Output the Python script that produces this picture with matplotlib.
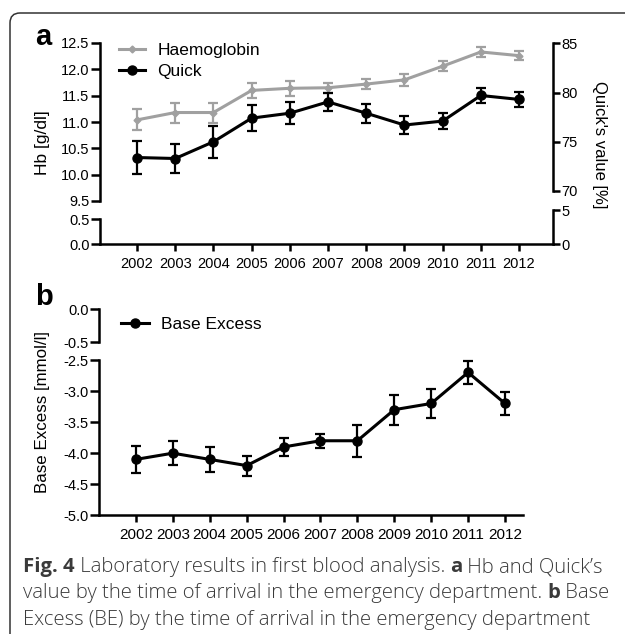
import numpy as np
import matplotlib
matplotlib.use('Agg')
import matplotlib.pyplot as plt
from matplotlib.lines import Line2D
from matplotlib.patches import FancyBboxPatch

plt.rcParams['font.family'] = ['Liberation Sans', 'DejaVu Sans']

# data
years = [2002, 2003, 2004, 2005, 2006, 2007, 2008, 2009, 2010, 2011, 2012]
hb = [11.04, 11.18, 11.18, 11.60, 11.64, 11.65, 11.72, 11.80, 12.06, 12.33, 12.26]
hb_err = [0.20, 0.19, 0.19, 0.15, 0.14, 0.10, 0.10, 0.11, 0.09, 0.09, 0.08]
quick = [73.4, 73.3, 75.0, 77.4, 77.9, 79.05, 77.9, 76.7, 77.1, 79.7, 79.3]
quick_err = [1.7, 1.5, 1.65, 1.35, 1.1, 0.9, 0.95, 0.9, 0.8, 0.8, 0.8]
be = [-4.10, -4.00, -4.10, -4.20, -3.90, -3.80, -3.80, -3.30, -3.20, -2.70, -3.20]
be_err = [0.22, 0.19, 0.20, 0.16, 0.14, 0.11, 0.26, 0.24, 0.24, 0.19, 0.19]

hb_ticks = [9.5, 10.0, 10.5, 11.0, 11.5, 12.0, 12.5]
quick_ticks = [70, 75, 80, 85]
be_ticks = [-5.0, -4.5, -4.0, -3.5, -3.0, -2.5]

W, H = 625, 634
fig = plt.figure(figsize=(W / 100, H / 100), dpi=100)

GRAY = '#a0a0a0'
LW = 1.8
DLW = 2.2


def px_axes(x0, y0, x1, y1):
    ax = fig.add_axes([x0 / W, 1 - y1 / H, (x1 - x0) / W, (y1 - y0) / H])
    ax.patch.set_visible(False)
    for s in ax.spines.values():
        s.set_visible(False)
        s.set_linewidth(LW)
    ax.tick_params(width=LW, labelsize=10.5)
    ax.set_xticks([])
    return ax


def left_axis(ax, ticks, fmt='%.1f'):
    ax.spines['left'].set_visible(True)
    ax.set_yticks(ticks)
    ax.set_yticklabels([fmt % t for t in ticks])
    ax.tick_params(axis='y', length=6.5, pad=1)


def bottom_axis(ax, xt, size):
    ax.spines['bottom'].set_visible(True)
    ax.set_xticks(xt)
    ax.set_xticklabels([str(y) for y in xt])
    ax.tick_params(axis='x', length=5, pad=4, labelsize=size)


# ---- panel a ----
xlim_a = (2001.03, 2012.89)
ax_hb = px_axes(100, 43, 553, 201)
ax_hb.set_xlim(xlim_a)
ax_hb.set_ylim(9.5, 12.5)
left_axis(ax_hb, hb_ticks)
ax_hb.errorbar(years, hb, yerr=hb_err, color=GRAY, lw=DLW, marker='D', ms=3.5,
               capsize=3.3, elinewidth=1.6, capthick=1.6, clip_on=False)

ax_q = px_axes(100, 43.3, 553, 191)
ax_q.set_xlim(xlim_a)
ax_q.set_ylim(70, 85)
ax_q.spines['right'].set_visible(True)
ax_q.yaxis.tick_right()
ax_q.set_yticks(quick_ticks)
ax_q.tick_params(axis='y', length=5, pad=1)
ax_q.errorbar(years, quick, yerr=quick_err, color='black', lw=DLW, marker='o', ms=6.5,
              capsize=3.5, elinewidth=1.6, capthick=1.6, clip_on=False)

ax_hb_lo = px_axes(100, 219, 553, 244)
ax_hb_lo.set_xlim(xlim_a)
ax_hb_lo.set_ylim(0, 0.5)
left_axis(ax_hb_lo, [0.0, 0.5])
bottom_axis(ax_hb_lo, years, 10.5)

ax_q_lo = px_axes(100, 210, 553, 244)
ax_q_lo.set_xlim(xlim_a)
ax_q_lo.set_ylim(0, 5)
ax_q_lo.spines['right'].set_visible(True)
ax_q_lo.yaxis.tick_right()
ax_q_lo.set_yticks([0, 5])
ax_q_lo.tick_params(axis='y', length=5, pad=1)

handles = [Line2D([], [], color=GRAY, lw=DLW, marker='D', ms=3.5),
           Line2D([], [], color='black', lw=DLW, marker='o', ms=6.5)]
ax_hb.legend(handles, ['Haemoglobin', 'Quick'], loc='upper left',
             bbox_to_anchor=(119 / W, 1 - 42.5 / H), bbox_transform=fig.transFigure,
             frameon=False, fontsize=12.5, handlelength=1.5, handletextpad=0.7,
             labelspacing=0.38, borderpad=0, borderaxespad=0)

fig.text(42.5 / W, 1 - 143 / H, 'Hb [g/dl]', rotation=90, ha='center', va='center', fontsize=12.5)
fig.text(600 / W, 1 - 144.5 / H, "Quick's value [%]", rotation=270, ha='center', va='center',
         fontsize=12)
fig.text(35 / W, 1 - 45 / H, 'a', fontsize=21, fontweight='bold', va='baseline')

# ---- panel b ----
xlim_b = (2001.0, 2012.48)
ax_be_hi = px_axes(99, 309.3, 522.7, 342)
ax_be_hi.set_xlim(xlim_b)
ax_be_hi.set_ylim(-0.5, 0.0)
left_axis(ax_be_hi, [-0.5, 0.0])

ax_be = px_axes(99, 360, 522.7, 515.3)
ax_be.set_xlim(xlim_b)
ax_be.set_ylim(-5.0, -2.5)
left_axis(ax_be, be_ticks)
bottom_axis(ax_be, years, 11)
ax_be.errorbar(years, be, yerr=be_err, color='black', lw=DLW, marker='o', ms=6.5,
               capsize=3.5, elinewidth=1.6, capthick=1.6, clip_on=False)

ax_be_hi.legend([Line2D([], [], color='black', lw=DLW, marker='o', ms=6.5)], ['Base Excess'],
                loc='upper left', bbox_to_anchor=(121 / W, 1 - 317 / H),
                bbox_transform=fig.transFigure, frameon=False, fontsize=12.5,
                handlelength=1.6, handletextpad=0.7, borderpad=0, borderaxespad=0)

fig.text(43 / W, 1 - 412 / H, 'Base Excess [mmol/l]', rotation=90, ha='center', va='center',
         fontsize=12.2)
fig.text(35 / W, 1 - 305 / H, 'b', fontsize=21, fontweight='bold', va='baseline')

# ---- frame and caption ----
frame = FancyBboxPatch((0.10, -0.5), 6.6, 6.34 - 0.13 + 0.5,
                       boxstyle='round,pad=0,rounding_size=0.1',
                       transform=fig.dpi_scale_trans, fill=False, lw=1.1,
                       edgecolor='#333333', clip_on=False)
fig.patches.append(frame)

caption = [
    (572, [('Fig. 4', True), (' Laboratory results in first blood analysis. ', False),
           ('a', True), (' Hb and Quick\u2019s', False)]),
    (598, [('value by the time of arrival in the emergency department. ', False),
           ('b', True), (' Base', False)]),
    (625, [('Excess (BE) by the time of arrival in the emergency department', False)]),
]
renderer = fig.canvas.get_renderer()
for ybase, parts in caption:
    x = 23
    for s, bold in parts:
        t = fig.text(x / W, 1 - ybase / H, s, family=['Open Sans', 'DejaVu Sans'],
                     fontsize=14.6, fontweight='bold' if bold else 'light',
                     color='#3a3a3a', va='baseline')
        x += t.get_window_extent(renderer).width

fig.savefig('out.png', dpi=100)
